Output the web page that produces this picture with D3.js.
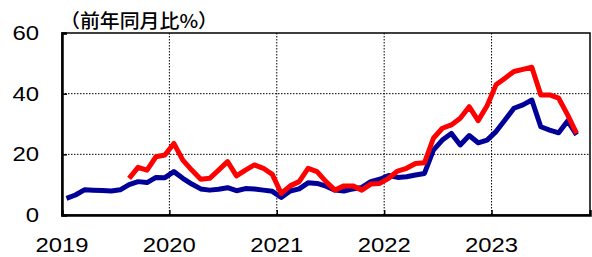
<!DOCTYPE html>
<html>
<head>
<meta charset="utf-8">
<script src="https://cdn.jsdelivr.net/npm/d3@7"></script>
<style>
  body { margin: 0; background: #fff; }
  text { font-family: "Liberation Sans", Arial, sans-serif; fill: #000; }
</style>
</head>
<body>
<div id="canvas"></div>
<script>
// monthly data, Jan 2019 - Oct 2023
var startYear = 2019;
var monthCount = 59; // category slots Jan 2019 - Nov 2023
var yearLabels = ["2019", "2020", "2021", "2022", "2023"];
var yTicks = [0, 20, 40, 60];

var blueValues = [
  5.5, 6.6, 8.3, 8.2, 8.1, 7.9, 8.3, 10.0, 11.0, 10.7, 12.4, 12.3,
  14.3, 12.1, 10.2, 8.6, 8.2, 8.5, 9.0, 8.0, 8.7, 8.6, 8.2, 7.8,
  5.8, 7.9, 8.6, 10.6, 10.4, 9.5, 8.2, 7.9, 8.6, 9.1, 11.0, 11.8,
  13.0, 12.4, 12.6, 13.2, 13.7, 21.4, 24.7, 26.9, 23.1, 26.2, 23.8, 24.7,
  27.5, 31.3, 35.2, 36.3, 37.9, 29.1, 28.0, 27.1, 31.0, 26.4
];
var redValues = [
  null, null, null, null, null, null, null, 12.1, 15.7, 14.8, 19.2, 19.8,
  23.6, 18.1, 14.8, 11.8, 12.1, 14.8, 17.6, 12.9, 14.8, 16.5, 15.4, 13.4,
  7.1, 9.6, 11.0, 15.4, 14.3, 11.0, 8.2, 9.6, 9.6, 8.2, 10.2, 10.4,
  12.1, 14.5, 15.4, 17.0, 17.2, 25.3, 28.6, 29.7, 31.9, 35.7, 31.1, 36.0,
  42.9, 45.1, 47.3, 48.0, 48.7, 39.6, 39.6, 38.5, 33.0, 26.9
];

var width = 592, height = 257;
var margin = {left: 62, right: 2, top: 33, bottom: 42};
var w = width - margin.left - margin.right;
var h = height - margin.top - margin.bottom;

var svg = d3.select("#canvas").append("svg")
  .attr("width", width)
  .attr("height", height);

var x = d3.scaleLinear().domain([0, monthCount]).range([0, w]);
var y = d3.scaleLinear().domain([0, 60]).range([h, 0]);

var g = svg.append("g")
  .attr("transform", "translate(" + margin.left + "," + margin.top + ")");

// grid lines
var yearIdx = yearLabels.map((d, i) => i * 12);
g.selectAll(".vgrid").data(yearIdx.slice(1)).enter().append("line")
  .attr("x1", d => x(d)).attr("x2", d => x(d))
  .attr("y1", 0).attr("y2", h)
  .attr("stroke", "#000").attr("stroke-width", 1)
  .attr("stroke-dasharray", "1.5,1.5");
g.selectAll(".hgrid").data([20, 40]).enter().append("line")
  .attr("x1", 0).attr("x2", w)
  .attr("y1", d => y(d)).attr("y2", d => y(d))
  .attr("stroke", "#000").attr("stroke-width", 1)
  .attr("stroke-dasharray", "1.5,1.5");

// lines
var line = d3.line()
  .defined(d => d != null)
  .x((d, i) => x(i + 0.5))
  .y(d => y(d));

g.append("path").datum(blueValues)
  .attr("fill", "none").attr("stroke", "#000099")
  .attr("stroke-width", 5).attr("stroke-linejoin", "round")
  .attr("d", line);
g.append("path").datum(redValues)
  .attr("fill", "none").attr("stroke", "#ff0000")
  .attr("stroke-width", 5).attr("stroke-linejoin", "round")
  .attr("d", line);

// frame
g.append("rect").attr("x", 0).attr("y", 0).attr("width", w).attr("height", h)
  .attr("fill", "none").attr("stroke", "#000").attr("stroke-width", 1.5);

// axes
var xAxis = d3.axisBottom(x).tickValues(yearIdx).tickSize(-5).tickFormat("");
g.append("g").attr("transform", "translate(0," + h + ")").call(xAxis)
  .call(a => a.select(".domain").attr("stroke-width", 2.5))
  .call(a => a.selectAll(".tick line").attr("stroke-width", 1.5));
var yAxis = d3.axisLeft(y).tickValues(yTicks).tickSize(-5).tickFormat("");
g.append("g").call(yAxis)
  .call(a => a.select(".domain").attr("stroke-width", 2.5))
  .call(a => a.selectAll(".tick line").attr("stroke-width", 1.5));

// tick labels
g.selectAll(".ylab").data(yTicks).enter().append("text")
  .attr("x", -23).attr("y", d => y(d) + 7)
  .attr("text-anchor", "end")
  .attr("font-size", 20)
  .attr("textLength", d => String(d).length * 13.3)
  .attr("lengthAdjust", "spacingAndGlyphs")
  .text(d => d);

g.selectAll(".xlab").data(yearLabels).enter().append("text")
  .attr("x", (d, i) => x(i * 12))
  .attr("y", h + 37)
  .attr("text-anchor", "middle")
  .attr("font-size", 20)
  .attr("textLength", 53)
  .attr("lengthAdjust", "spacingAndGlyphs")
  .text(d => d);

// unit label
svg.append("text")
  .attr("x", 60).attr("y", 28)
  .attr("font-size", 19)
  .attr("font-weight", 500)
  .style("font-family", "'Noto Sans CJK JP', sans-serif")
  .attr("textLength", 158)
  .attr("lengthAdjust", "spacingAndGlyphs")
  .text("（前年同月比%）");
</script>
</body>
</html>
